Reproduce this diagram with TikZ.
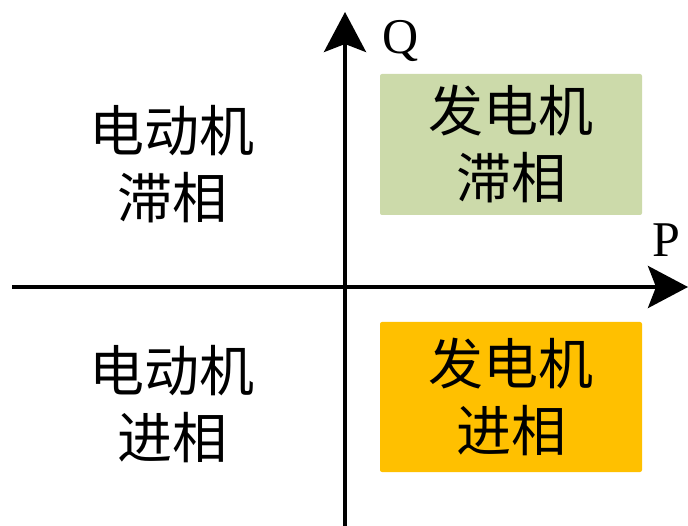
\documentclass[tikz,border=0pt]{standalone}
\usepackage{fontspec}
\setmainfont{Liberation Serif}
\newfontfamily\cjk{Noto Sans CJK SC}
\usetikzlibrary{arrows.meta}
\definecolor{genlag}{RGB}{204,218,170}
\definecolor{genlead}{RGB}{255,192,0}
\begin{document}
\begin{tikzpicture}[x=1pt,y=-1pt,
  axis/.style={line width=4pt,-{Stealth[length=40pt,width=42pt,inset=8pt]}},
  cjktext/.style={align=center,inner sep=0pt,font=\cjk\fontsize{55}{67}\selectfont},
  quadbox/.style={rounded corners=2pt,draw=none,minimum width=262pt,minimum height=141pt,inner sep=0pt,align=center,font=\cjk\fontsize{55}{67}\selectfont},
  axlabel/.style={inner sep=0pt,font=\fontsize{50}{50}\selectfont}]
\useasboundingbox (0,0) rectangle (688,526);
\coordinate (xs) at (12,287);
\coordinate (xe) at (688,287);
\coordinate (ys) at (345,526);
\coordinate (ye) at (345,12);
\draw[axis] (xs) -- (xe);
\draw[axis] (ys) -- (ye);
\node[axlabel] (q) at (401,41) {Q};
\node[axlabel] (p) at (666,240) {P};
\node[quadbox,fill=genlag] (g1) at (511,144.5) {发电机\\滞相};
\node[quadbox,fill=genlead,minimum height=150pt] (g2) at (511,397) {发电机\\进相};
\node[cjktext] (m1) at (172,164) {电动机\\滞相};
\node[cjktext] (m2) at (172,404) {电动机\\进相};
\end{tikzpicture}
\end{document}
